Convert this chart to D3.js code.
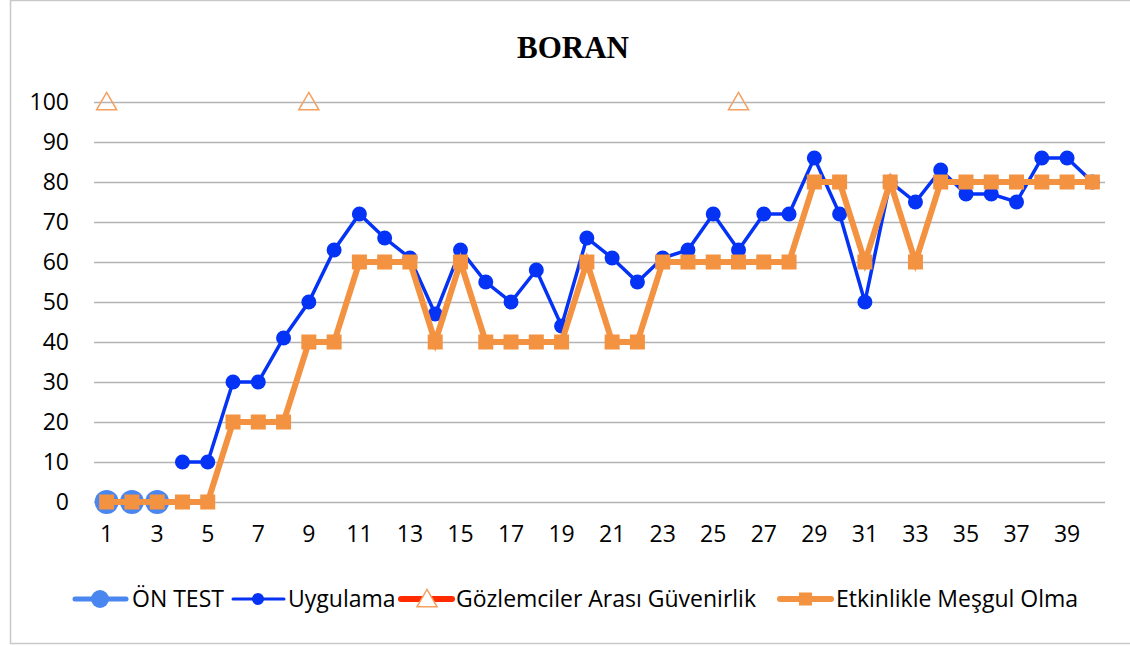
<!DOCTYPE html>
<html>
<head>
<meta charset="utf-8">
<script src="https://cdn.jsdelivr.net/npm/d3@7"></script>
<style>
  body { margin: 0; background: #fff; }
  text { font-family: "Open Sans", "Noto Sans", sans-serif; }
</style>
</head>
<body>
<svg id="chart" width="1130" height="646"></svg>
<script>
let categories = d3.range(1, 41);
let yTicks = [0, 10, 20, 30, 40, 50, 60, 70, 80, 90, 100];

// null = no point for that session
let onTest = [0, 0, 0];
let uygulama = [null, null, null, 10, 10, 30, 30, 41, 50, 63, 72, 66, 61, 47, 63, 55, 50, 58, 44, 66,
  61, 55, 61, 63, 72, 63, 72, 72, 86, 72, 50, 80, 75, 83, 77, 77, 75, 86, 86, 80];
let guvenirlikSessions = [1, 9, 26];
let guvenirlikValues = [100, 100, 100];
let etkinlik = [0, 0, 0, 0, 0, 20, 20, 20, 40, 40, 60, 60, 60, 40, 60, 40, 40, 40, 40, 60,
  40, 40, 60, 60, 60, 60, 60, 60, 80, 80, 60, 80, 60, 80, 80, 80, 80, 80, 80, 80];

let svg = d3.select("#chart");
let plotLeft = 94, plotRight = 1105, plotTop = 102, plotBottom = 502;

// chart frame
svg.append("rect")
  .attr("x", 10.5).attr("y", 0.5)
  .attr("width", 1130).attr("height", 643)
  .attr("fill", "none").attr("stroke", "#c8c8c8").attr("stroke-width", 1.5);

let xScale = d3.scaleBand().domain(categories).range([plotLeft, plotRight]);
let yScale = d3.scaleLinear().domain([0, 100]).range([plotBottom, plotTop]);
let cx = d => xScale(d) + xScale.bandwidth() / 2;

// title
svg.append("text")
  .attr("x", 573).attr("y", 58)
  .attr("text-anchor", "middle")
  .style("font-family", "'Liberation Serif', 'DejaVu Serif', serif")
  .style("font-weight", "bold").style("font-size", "31px")
  .text("BORAN");

// grid + y labels
svg.append("g")
  .attr("transform", "translate(" + plotLeft + ",0)")
  .call(d3.axisLeft(yScale).tickValues(yTicks).tickSize(-(plotRight - plotLeft)).tickPadding(25))
  .call(g => g.select(".domain").remove())
  .call(g => g.selectAll("line").attr("stroke", "#b3b3b3").attr("stroke-width", 1.5))
  .call(g => g.selectAll("text").style("font-size", "23px").attr("fill", "#000"));

// x labels
svg.append("g")
  .attr("transform", "translate(0," + plotBottom + ")")
  .call(d3.axisBottom(xScale).tickValues(categories.filter(d => d % 2 === 1)).tickSize(0).tickPadding(24))
  .call(g => g.select(".domain").remove())
  .call(g => g.selectAll("text").style("font-size", "23px").attr("fill", "#000"));

let blueLight = "#4a86f0", blue = "#0433f5", orange = "#f39240", red = "#ff2a00", triOrange = "#f4a060";

let line = d3.line()
  .defined(d => d.v !== null)
  .x(d => cx(d.c)).y(d => yScale(d.v));

// ÖN TEST
let onData = onTest.map((v, i) => ({ c: categories[i], v: v }));
svg.append("path").datum(onData).attr("d", line)
  .attr("fill", "none").attr("stroke", blueLight).attr("stroke-width", 6);
svg.selectAll(".on").data(onData).enter().append("circle")
  .attr("cx", d => cx(d.c)).attr("cy", d => yScale(d.v)).attr("r", 12)
  .attr("fill", blueLight);

// Uygulama
let uyData = uygulama.map((v, i) => ({ c: categories[i], v: v }));
svg.append("path").datum(uyData).attr("d", line)
  .attr("fill", "none").attr("stroke", blue).attr("stroke-width", 3.5);
svg.selectAll(".uy").data(uyData.filter(d => d.v !== null)).enter().append("circle")
  .attr("cx", d => cx(d.c)).attr("cy", d => yScale(d.v)).attr("r", 7.5)
  .attr("fill", blue);

// Gözlemciler Arası Güvenirlik (markers only)
let triangle = d3.symbol().type(d3.symbolTriangle).size(175);
svg.selectAll(".tri").data(guvenirlikSessions.map((c, i) => ({ c: c, v: guvenirlikValues[i] })))
  .enter().append("path")
  .attr("d", triangle)
  .attr("transform", d => "translate(" + cx(d.c) + "," + (yScale(d.v) + 2) + ")")
  .attr("fill", "none").attr("stroke", triOrange).attr("stroke-width", 1.5);

// Etkinlikle Meşgul Olma
let etData = etkinlik.map((v, i) => ({ c: categories[i], v: v }));
svg.append("path").datum(etData).attr("d", line)
  .attr("fill", "none").attr("stroke", orange).attr("stroke-width", 6);
svg.selectAll(".et").data(etData).enter().append("rect")
  .attr("x", d => cx(d.c) - 7.5).attr("y", d => yScale(d.v) - 7.5)
  .attr("width", 15).attr("height", 15)
  .attr("fill", orange);

// legend
let legendY = 599;
let legend = [
  { name: "ÖN TEST", x: 73, tx: 132, color: blueLight, w: 5, marker: "bigcircle" },
  { name: "Uygulama", x: 231, tx: 288, color: blue, w: 3, marker: "circle" },
  { name: "Gözlemciler Arası Güvenirlik", x: 399, tx: 456, color: red, w: 6, marker: "triangle" },
  { name: "Etkinlikle Meşgul Olma", x: 778, tx: 836, color: orange, w: 6, marker: "square" }
];
let lg = svg.append("g").selectAll("g").data(legend).enter().append("g")
  .attr("transform", d => "translate(" + d.x + "," + legendY + ")");
lg.append("line").attr("x1", 2).attr("x2", 53)
  .attr("stroke", d => d.color).attr("stroke-width", d => d.w).attr("stroke-linecap", "round");
lg.filter(d => d.marker === "bigcircle").append("circle").attr("cx", 27).attr("r", 9).attr("fill", blueLight);
lg.filter(d => d.marker === "circle").append("circle").attr("cx", 27).attr("r", 6).attr("fill", blue);
lg.filter(d => d.marker === "triangle").append("path").attr("d", triangle)
  .attr("transform", "translate(28,2)").attr("fill", "#fff").attr("stroke", triOrange).attr("stroke-width", 1.5);
lg.filter(d => d.marker === "square").append("rect").attr("x", 21).attr("y", -6.5)
  .attr("width", 13).attr("height", 13).attr("fill", orange);
lg.append("text").attr("x", d => d.tx - d.x).attr("y", 8)
  .style("font-size", "23px").attr("fill", "#000")
  .text(d => d.name);
</script>
</body>
</html>
